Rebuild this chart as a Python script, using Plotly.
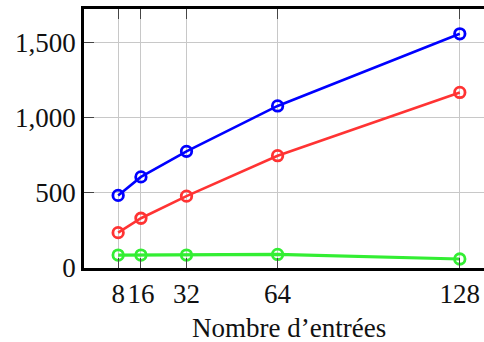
import plotly.graph_objects as go

x_vals = [8, 16, 32, 64, 128]
blue_vals = [483, 606, 776, 1078, 1558]
red_vals = [235, 331, 478, 747, 1168]
green_vals = [86, 86, 86, 90, 60]
x_ticks = [8, 16, 32, 64, 128]
y_ticks = [0, 500, 1000, 1500]
x_label = "Nombre d’entrées"

FONT = "Liberation Serif"
series = [(blue_vals, "#0000ff", 2.6), (red_vals, "#ff3333", 2.6), (green_vals, "#33ee33", 3.2)]

fig = go.Figure()
for vals, col, w in series:
    fig.add_trace(go.Scatter(
        x=x_vals, y=vals, mode="lines+markers",
        line=dict(color=col, width=w),
        marker=dict(symbol="circle-open", size=10.5, color=col, line=dict(width=2.8, color=col)),
        showlegend=False, cliponaxis=False,
    ))

fig.update_layout(
    width=484, height=342,
    margin=dict(l=84, r=0, t=9, b=74, autoexpand=False),
    paper_bgcolor="white", plot_bgcolor="white",
    font=dict(family=FONT, size=27, color="#111"),
    xaxis=dict(
        range=[-4, 136.5], tickvals=x_ticks, ticktext=[str(v) for v in x_ticks],
        tickangle=0, automargin=False,
        showgrid=True, gridcolor="#c8c8c8", gridwidth=1,
        showline=True, linecolor="black", linewidth=2.7, mirror="ticks",
        ticks="inside", ticklen=10, tickcolor="#444", tickwidth=1,
        zeroline=False,
    ),
    yaxis=dict(
        range=[0, 1723], tickvals=y_ticks, tickformat=",d", automargin=False,
        showgrid=True, gridcolor="#c8c8c8", gridwidth=1,
        showline=True, linecolor="black", linewidth=2.7,
        ticks="inside", ticklen=10, tickcolor="#444", tickwidth=1,
        zeroline=False,
    ),
    annotations=[dict(
        text=x_label, xref="paper", yref="paper", x=0.5125, y=-0.165,
        xanchor="center", yanchor="top", showarrow=False,
        font=dict(family=FONT, size=27, color="#111"),
    )],
)

fig.write_html("out.html", config={"displayModeBar": False},
               post_script="document.body.style.margin='0';document.body.style.overflow='hidden';")
